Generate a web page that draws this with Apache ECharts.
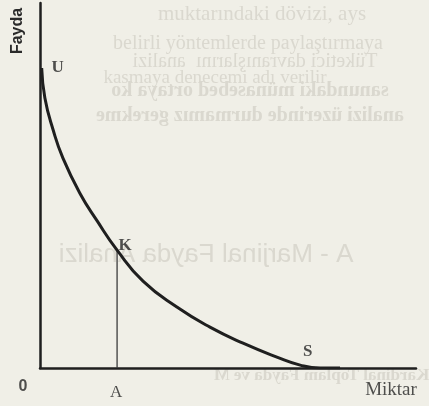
<!DOCTYPE html>
<html>
<head>
<meta charset="utf-8">
<style>
  html, body { margin: 0; padding: 0; background: #f0efe7; }
  #chart { width: 429px; height: 406px; }
</style>
<script src="https://cdn.jsdelivr.net/npm/echarts@6/dist/echarts.min.js"></script>
</head>
<body>
<div id="chart"></div>
<script>
// Total utility curve (arbitrary 0-100 units)
const curveX = [0.45, 1.3, 3.5, 6.1, 10.6, 15.2, 20.5, 27.4, 36.4, 45.2, 54.0, 63.0, 69.2, 74.5, 79.8];
const curveY = [82.2, 74.0, 65.2, 57.5, 47.9, 40.3, 32.3, 23.8, 16.7, 11.2, 6.8, 3.0, 0.8, 0.0, 0.0];
// Named points on the chart
const pointNames = ['U', 'K', 'S'];
const pointX = [0.45, 20.5, 72.0];
const pointY = [82.2, 32.3, 0.0];
const dropX = 20.5;          // A on the quantity axis
const dropTop = 32.3;        // K on the curve
const xAxisName = 'Miktar';
const yAxisName = 'Fayda';
const originLabel = '0';
const dropLabel = 'A';

const ink = '#1f1f1f';
const ghost = '#dad8cf';

const chart = echarts.init(document.getElementById('chart'), null, { renderer: 'canvas' });

function ghostText(text, cx, cy, font, mirror) {
  return {
    type: 'text', x: cx, y: cy, z: 0, silent: true,
    scaleX: mirror ? -1 : 1,
    style: { text: text, x: 0, y: 0, textAlign: 'center', textVerticalAlign: 'middle', font: font, fill: ghost }
  };
}

const option = {
  backgroundColor: '#f0efe7',
  animation: false,
  grid: { left: 40, right: 13, top: 3, bottom: 38 },
  xAxis: {
    type: 'value', min: 0, max: 100,
    axisLine: { show: true, onZero: false, lineStyle: { color: ink, width: 2.5 } },
    axisTick: { show: false }, axisLabel: { show: false }, splitLine: { show: false }
  },
  yAxis: {
    type: 'value', min: 0, max: 100,
    axisLine: { show: true, onZero: false, lineStyle: { color: ink, width: 2.5 } },
    axisTick: { show: false }, axisLabel: { show: false }, splitLine: { show: false }
  },
  graphic: [
    ghostText('muktarındaki dövizi, ays', 262, 14, '21px "Liberation Serif"', false),
    ghostText('belirli yöntemlerde paylaştırmaya', 248, 44, '20px "Liberation Serif"', false),
    ghostText('Tüketici davranışlarını  analizi', 255, 62, '20px "Liberation Serif"', true),
    ghostText('kasmaya denecemi adı verilir', 215, 78, '19px "Liberation Serif"', false),
    ghostText('sanundaki münasebed ortaya ko', 250, 91, 'bold 20px "Liberation Serif"', true),
    ghostText('analizi üzerinde durmamız gerekme', 250, 116, 'bold 20px "Liberation Serif"', true),
    ghostText('A - Marjinal Fayda Analizi', 206, 255, '26px "Liberation Sans"', true),
    ghostText('1. Kardinal Toplam Fayda ve M', 330, 376, 'bold 17px "Liberation Serif"', true),
    {
      type: 'text', x: 18, y: 31, rotation: Math.PI / 2, z: 10,
      style: { text: yAxisName, x: 0, y: 0, textAlign: 'center', textVerticalAlign: 'middle',
               font: 'bold 16px "Liberation Sans"', fill: '#2a2a2a' }
    }
  ],
  series: [
    {
      type: 'line', smooth: 0.5, symbol: 'none', z: 5,
      lineStyle: { color: ink, width: 3 },
      data: curveX.map((x, i) => [x, curveY[i]])
    },
    {
      type: 'line', symbol: 'none', z: 4,
      lineStyle: { color: '#3a3a3a', width: 1.3 },
      data: [[dropX, 0], [dropX, dropTop]]
    },
    {
      type: 'scatter', symbolSize: 0, z: 6,
      data: pointNames.map((n, i) => ({ value: [pointX[i], pointY[i]], name: n })),
      label: {
        show: true, formatter: p => p.name, position: 'inside',
        fontFamily: 'Liberation Serif', fontWeight: 'bold', fontSize: 17, color: '#262626'
      },
      labelLayout: function (params) {
        const d = [[16, 0], [8, -4], [-3, -16]][params.dataIndex];
        return { dx: d[0], dy: d[1] };
      }
    },
    {
      type: 'scatter', symbolSize: 0, z: 6,
      data: [
        { value: [dropX, 0], name: dropLabel },
        { value: [0, 0], name: originLabel,
          label: { fontFamily: 'Liberation Sans', fontWeight: 'bold', fontSize: 16 } },
        { value: [100, 0], name: xAxisName, label: { fontSize: 19 } }
      ],
      label: {
        show: true, formatter: p => p.name, position: 'inside',
        fontFamily: 'Liberation Serif', fontSize: 17, color: '#262626'
      },
      labelLayout: function (params) {
        const d = [[-1, 25], [-17, 19], [-25, 22]][params.dataIndex];
        return { dx: d[0], dy: d[1] };
      }
    }
  ]
};
chart.setOption(option);
</script>
</body>
</html>
